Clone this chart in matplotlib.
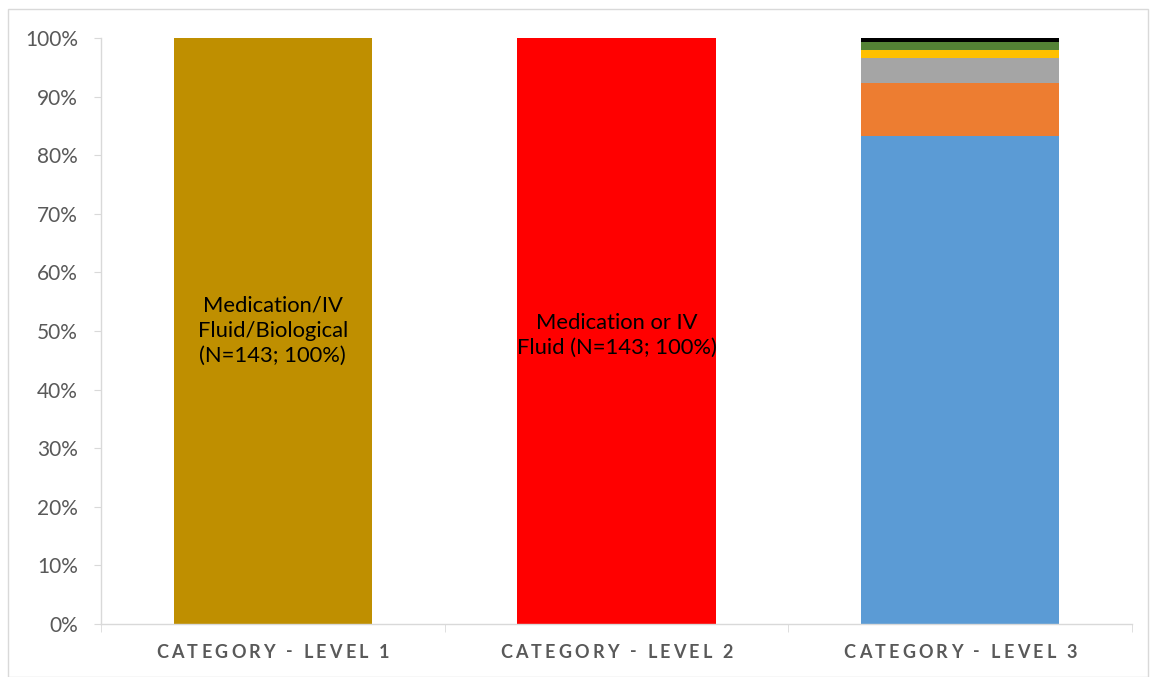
import matplotlib
matplotlib.use("Agg")
import matplotlib.pyplot as plt
from matplotlib.patches import Rectangle
from matplotlib.ticker import FixedLocator

categories = ["CATEGORY - LEVEL 1", "CATEGORY - LEVEL 2", "CATEGORY - LEVEL 3"]
level1_pct = [100, 0, 0]
level2_pct = [0, 100, 0]
level3_counts = [119, 13, 6, 2, 2, 1]
level3_total = 143
level3_colors = ["#5B9BD5", "#ED7D31", "#A5A5A5", "#FFC000", "#548235", "#000000"]
bar_labels = ["Medication/IV\nFluid/Biological\n(N=143; 100%)",
              "Medication or IV\nFluid (N=143; 100%)"]
yticks = list(range(0, 101, 10))

plt.rcParams['font.family'] = ['Lato', 'DejaVu Sans']

fig = plt.figure(figsize=(11.53, 6.77), dpi=100)
W, H = 1153, 677
ax = fig.add_axes([101 / W, (H - 624) / H, (1132 - 101) / W, (624 - 38) / H])

x = [0, 1, 2]
bw = 0.577
ax.bar(x[0], level1_pct[0], width=bw, color="#BF8F00")
ax.bar(x[1], level2_pct[1], width=bw, color="#FF0000")
bottom = 0.0
for c, col in zip(level3_counts, level3_colors):
    v = c / level3_total * 100
    ax.bar(x[2], v, width=bw, bottom=bottom, color=col)
    bottom += v

ax.text(x[0], 50, bar_labels[0], ha="center", va="center", fontsize=15.8,
        color="black", linespacing=1.32)
ax.text(x[1], 49.3, bar_labels[1], ha="center", va="center", fontsize=15.8,
        color="black", linespacing=1.32)

ax.set_xlim(-0.5, 2.5)
ax.set_ylim(0, 100)
ax.set_yticks(yticks)
ax.set_yticklabels([f"{t}%" for t in yticks], fontsize=15, color="#595959")
ax.tick_params(axis="y", length=5, color="#D9D9D9", pad=11.5)

ax.set_xticks(x)
ax.set_xticklabels([""] * 3)
ax.tick_params(axis="x", which="major", length=0)
ax.xaxis.set_minor_locator(FixedLocator([-0.5, 0.5, 1.5, 2.5]))
ax.tick_params(axis="x", which="minor", length=6, color="#D9D9D9")

for s in ["top", "right"]:
    ax.spines[s].set_visible(False)
for s in ["left", "bottom"]:
    ax.spines[s].set_color("#D9D9D9")
    ax.spines[s].set_linewidth(1.0)

# letter-spaced category labels
renderer = fig.canvas.get_renderer()
lab_kw = dict(fontsize=13, fontweight="bold", color="#595959")


def width_of(s):
    t = fig.text(0, 0, s, **lab_kw)
    w = t.get_window_extent(renderer).width
    t.remove()
    return w


target_w = 233.0
label_y = H - 652
for i, lab in enumerate(categories):
    widths = []
    for ch in lab:
        if ch == " ":
            widths.append(width_of("x x") - width_of("xx"))
        else:
            widths.append(width_of(ch))
    gap = (target_w - sum(widths)) / (len(lab) - 1)
    cx = ax.transData.transform((x[i], 0))[0]
    px = cx - target_w / 2
    for ch, w in zip(lab, widths):
        if ch != " ":
            fig.text(px / W, label_y / H, ch, ha="left", va="center", **lab_kw)
        px += w + gap

fig.patches.append(Rectangle((8 / W, 0.5 / H), (1148 - 8) / W, (H - 9 - 0.5) / H,
                             transform=fig.transFigure, fill=False,
                             edgecolor="#D9D9D9", linewidth=1.0))

fig.savefig("out.png", dpi=100)
